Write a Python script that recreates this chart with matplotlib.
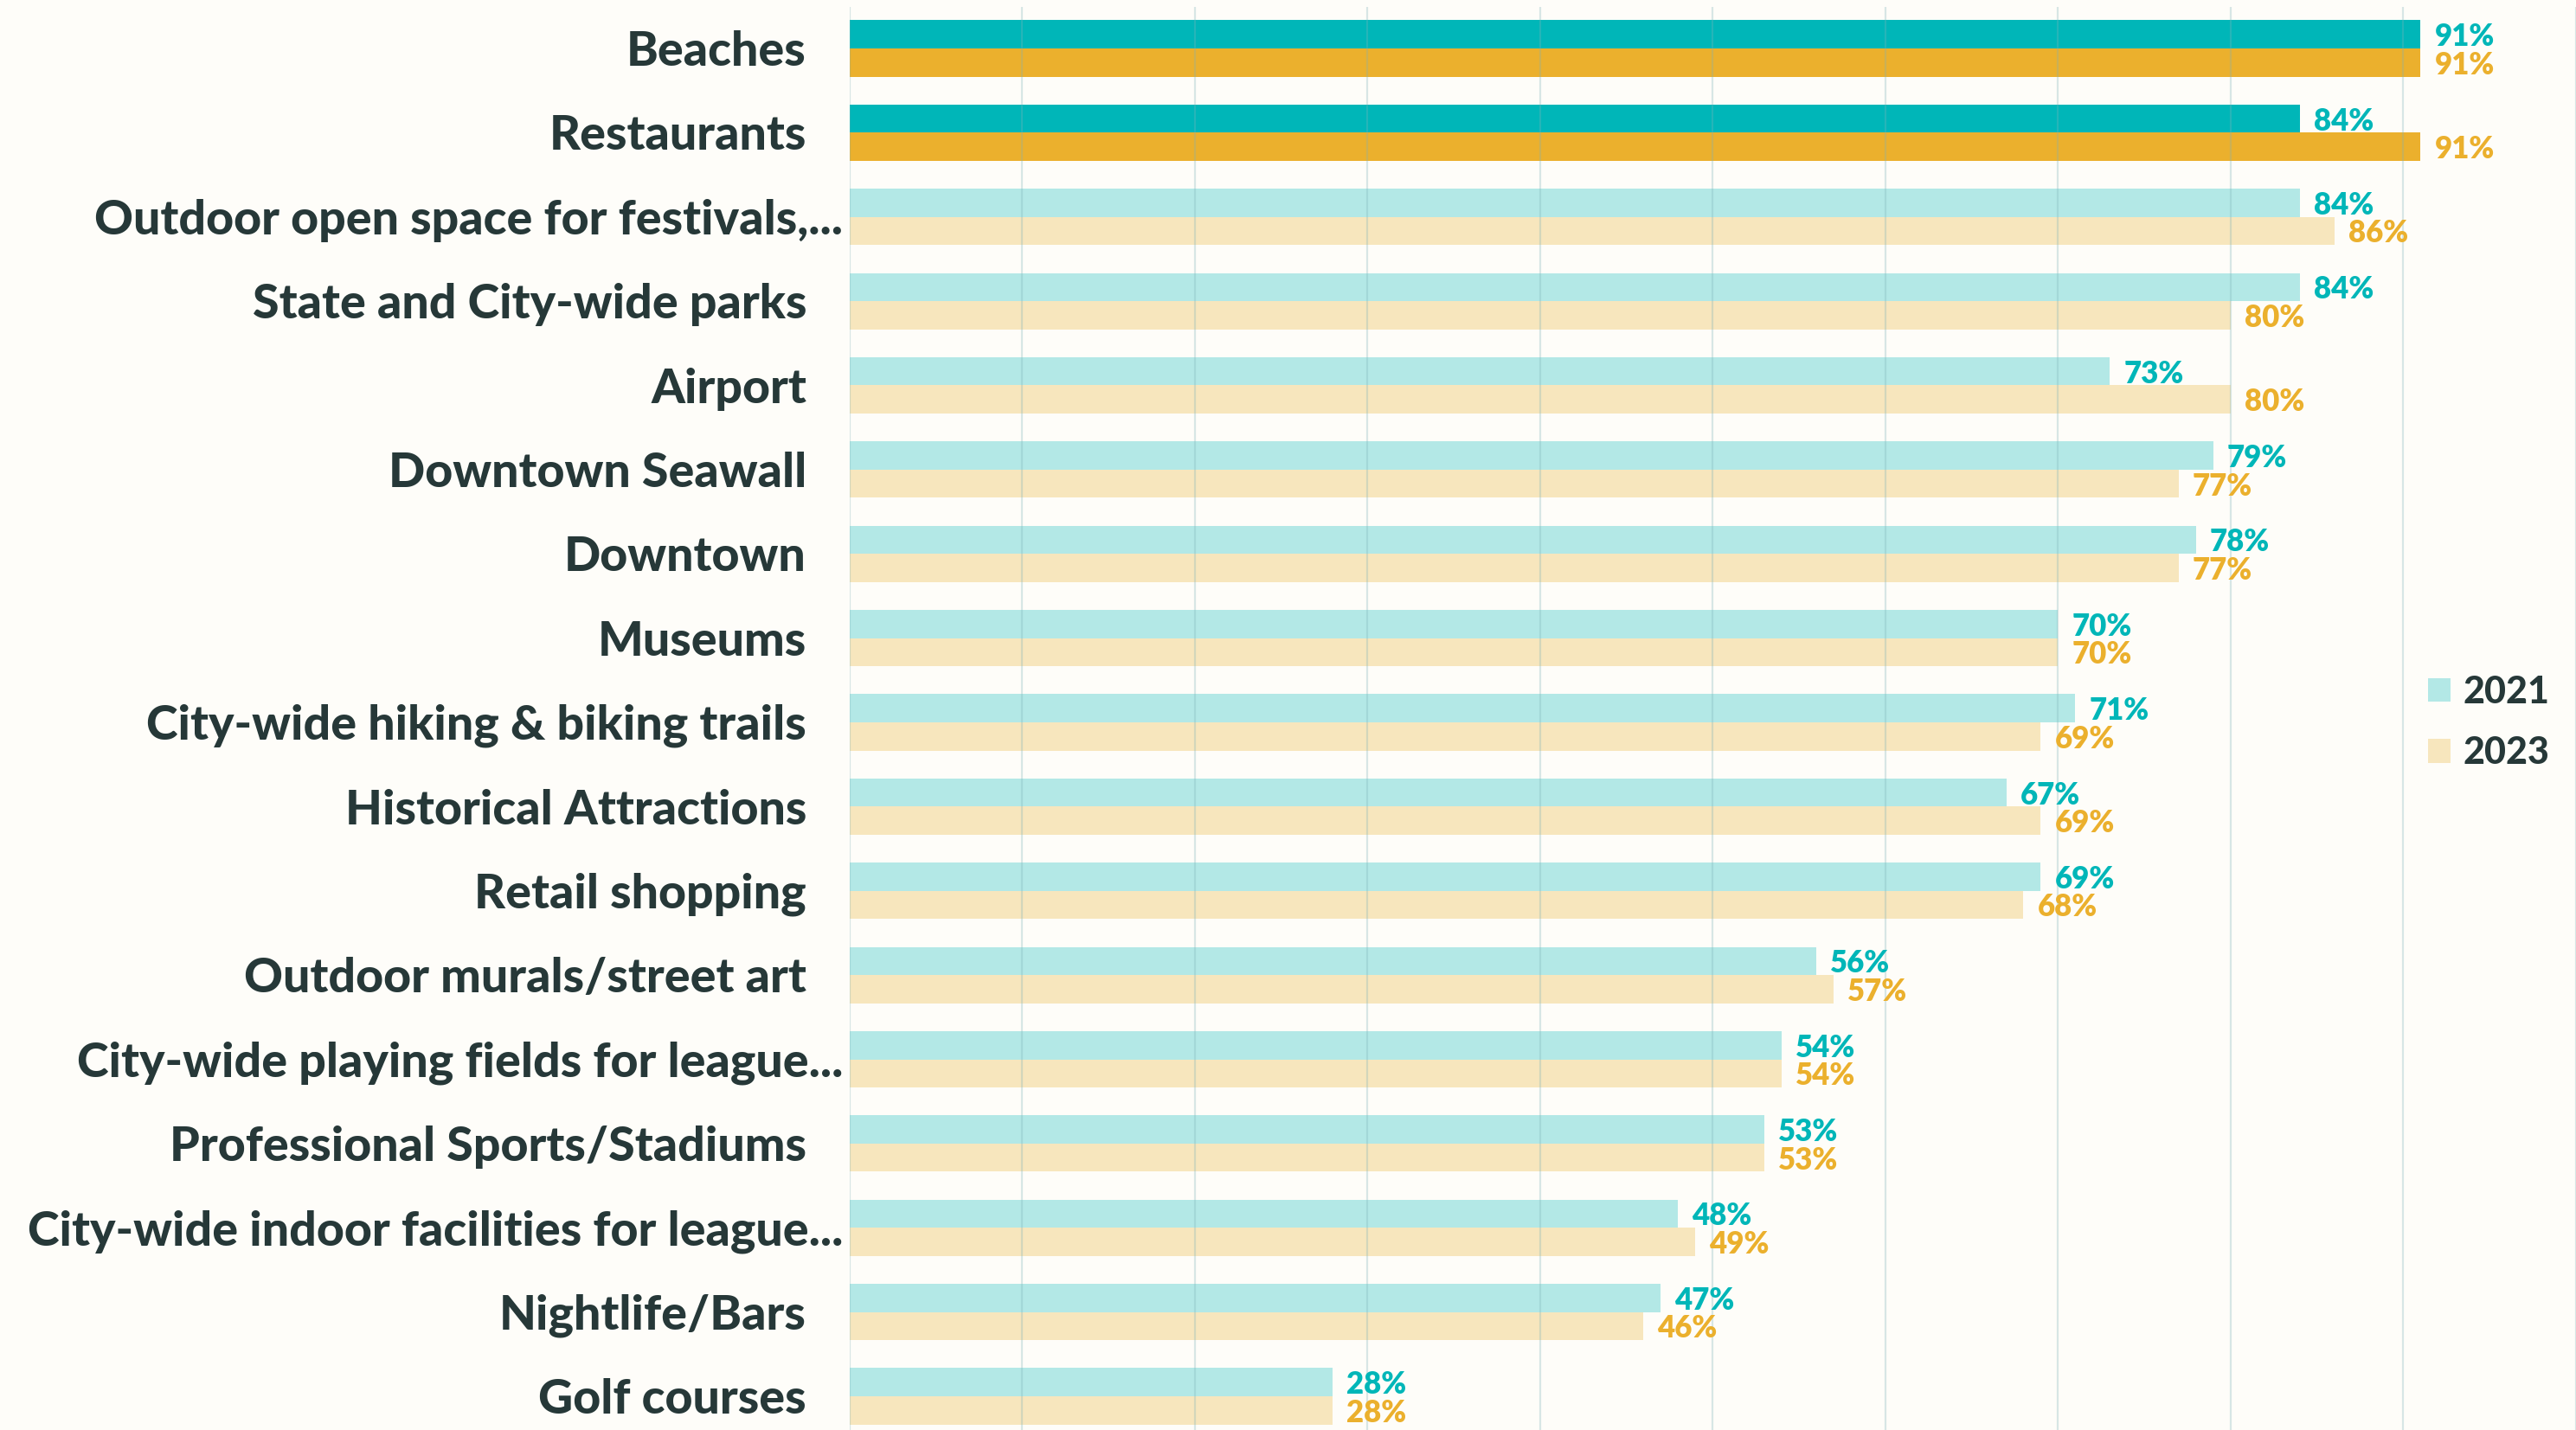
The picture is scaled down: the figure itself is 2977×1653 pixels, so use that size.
import matplotlib
matplotlib.use("Agg")
import matplotlib.pyplot as plt
import numpy as np
from matplotlib.patches import Patch

categories = [
    "Beaches",
    "Restaurants",
    "Outdoor open space for festivals,...",
    "State and City-wide parks",
    "Airport",
    "Downtown Seawall",
    "Downtown",
    "Museums",
    "City-wide hiking & biking trails",
    "Historical Attractions",
    "Retail shopping",
    "Outdoor murals/street art",
    "City-wide playing fields for league...",
    "Professional Sports/Stadiums",
    "City-wide indoor facilities for league...",
    "Nightlife/Bars",
    "Golf courses",
]
values_2021 = [91, 84, 84, 84, 73, 79, 78, 70, 71, 67, 69, 56, 54, 53, 48, 47, 28]
values_2023 = [91, 91, 86, 80, 80, 77, 77, 70, 69, 69, 68, 57, 54, 53, 49, 46, 28]
highlighted = ["Beaches", "Restaurants"]
series_names = ["2021", "2023"]

BG = "#FEFDF9"
TEAL = "#00B6B8"
GOLD = "#EBB02D"
TEAL_LIGHT = "#B3E8E6"
GOLD_LIGHT = "#F7E6BD"
TEXT = "#263838"
FONT = ["Lato", "DejaVu Sans"]

W, H = 2977, 1653
fig = plt.figure(figsize=(W / 100, H / 100), dpi=100, facecolor=BG)
ax = fig.add_axes([981.6 / W, 0.0, 1 - 981.6 / W, 1 - 8 / H])
ax.set_facecolor(BG)

y = np.arange(len(categories))
bh = 0.334
dy = 0.03  # small downward nudge for value labels
for i, cat in enumerate(categories):
    hi = cat in highlighted
    c1 = TEAL if hi else TEAL_LIGHT
    c2 = GOLD if hi else GOLD_LIGHT
    ax.barh(y[i] - bh / 2, values_2021[i], height=bh, color=c1, zorder=1)
    ax.barh(y[i] + bh / 2, values_2023[i], height=bh, color=c2, zorder=1)
    ax.text(values_2021[i] + 0.8, y[i] - bh / 2 + dy, f"{values_2021[i]}%",
            color=TEAL, fontsize=25, fontweight="heavy", family=FONT,
            va="center", ha="left", zorder=3)
    ax.text(values_2023[i] + 0.8, y[i] + bh / 2 + dy, f"{values_2023[i]}%",
            color=GOLD, fontsize=25, fontweight="heavy", family=FONT,
            va="center", ha="left", zorder=3)

# category labels (truncated ones overflow a little to the right)
for i, cat in enumerate(categories):
    xr = 974 if cat.endswith("...") else 932
    fig.text(xr / W, 1 - (60 + i * 97.4) / H, cat, ha="right", va="center",
             color=TEXT, fontsize=40, fontweight="black", family=FONT)

ax.set_xlim(0, 100)
ax.set_ylim(16 + 39 / 97.4, -48 / 97.4)
ax.set_xticks(np.arange(0, 101, 10))
ax.xaxis.grid(True, color="#7fb3b8", alpha=0.3, linewidth=1.6, zorder=2)
ax.set_axisbelow(False)
ax.tick_params(left=False, bottom=False, labelleft=False, labelbottom=False)
for s in ax.spines.values():
    s.set_visible(False)

handles = [Patch(facecolor=TEAL_LIGHT, edgecolor="none"),
           Patch(facecolor=GOLD_LIGHT, edgecolor="none")]
leg = fig.legend(handles, series_names, loc="center left",
                 bbox_to_anchor=(2806 / W, 1 - 835 / H), frameon=False,
                 prop={"family": FONT, "weight": "black", "size": 31},
                 handlelength=0.6, handleheight=0.6, handletextpad=0.35,
                 labelspacing=0.7, borderpad=0, borderaxespad=0)
for t in leg.get_texts():
    t.set_color(TEXT)

fig.savefig("out.png", dpi=100, facecolor=BG)
